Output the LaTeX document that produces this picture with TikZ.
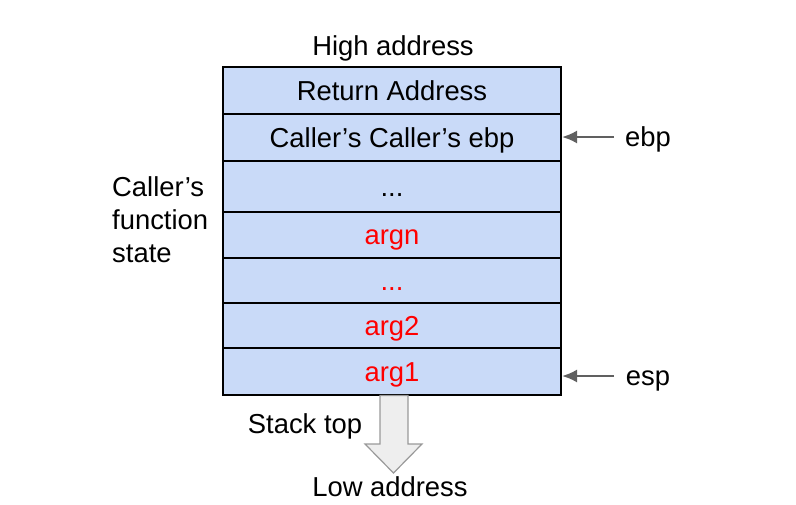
\documentclass[tikz,border=0pt]{standalone}
\usepackage{fontspec}
\setmainfont{Liberation Sans}
\usetikzlibrary{arrows.meta}
\definecolor{cellblue}{HTML}{C9DAF8}
\definecolor{ptrgray}{HTML}{606060}
\definecolor{bigfill}{HTML}{EEEEEE}
\definecolor{bigline}{HTML}{999999}
\tikzset{
  cell/.style={draw=black, line width=2pt, fill=cellblue, minimum width=338pt, inner sep=0pt, font=\fontsize{27.4}{32}\selectfont, text height=19.6pt, text depth=0pt},
  lbl/.style={inner sep=0pt, font=\fontsize{27.4}{32}\selectfont, text height=19.6pt, text depth=0pt},
  redtxt/.style={text=red},
  ptr/.style={draw=ptrgray, line width=2.2pt, -{Latex[length=15pt,width=13pt]}},
}
\begin{document}
\begin{tikzpicture}[x=1pt,y=-1pt]
\useasboundingbox (0,0) rectangle (796,504);
\node[cell, minimum height=47pt] (r1) at (392,90.5) {Return Address};
\node[cell, minimum height=46.5pt] (r2) at (392,137.25) {Caller’s Caller’s ebp};
\node[cell, minimum height=51.5pt] (r3) at (392,186.25) {...};
\node[cell, minimum height=46pt, redtxt] (r4) at (392,235) {argn};
\node[cell, minimum height=45pt, redtxt] (r5) at (392,280.5) {...};
\node[cell, minimum height=45pt, redtxt] (r6) at (392,325.5) {arg2};
\node[cell, minimum height=46.5pt, redtxt] (r7) at (392,371.25) {arg1};
\node[lbl] (high) at (393,46) {High address};
\node[inner sep=0pt, anchor=west, align=left, font=\fontsize{27.4}{33}\selectfont] (state) at (112,220) {Caller’s\\function\\state};
\node[lbl] (ebp) at (648,137) {ebp};
\node[lbl] (esp) at (648,376) {esp};
\coordinate (ebpstart) at (614,137);
\coordinate (espstart) at (614,376);
\draw[ptr] (ebpstart) -- (ebpstart -| r2.east);
\draw[ptr] (espstart) -- (espstart -| r7.east);
% big down arrow
\draw[draw=bigline, fill=bigfill, line width=1.2pt, line join=miter]
  (380,395.5) -- (408,395.5) -- (408,444) -- (422,444) -- (393.5,473) -- (365,444) -- (380,444) -- cycle;
\node[lbl] (top) at (305,424) {Stack top};
\node[lbl] (low) at (390,487) {Low address};
\end{tikzpicture}
\end{document}
